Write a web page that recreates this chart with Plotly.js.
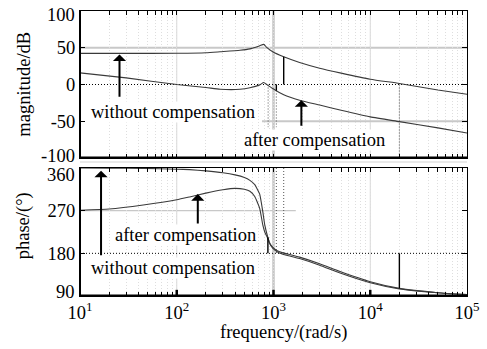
<!DOCTYPE html>
<html><head><meta charset="utf-8">
<script src="https://cdn.plot.ly/plotly-3.0.1.min.js"></script>
<style>html,body{margin:0;padding:0;background:#fff}</style>
</head><body><div id="chart" style="width:487px;height:349px"></div>
<script>
// ---- data ----
const freqMag = [10, 30, 100, 200, 280, 450, 570, 720, 793, 850, 981, 1275, 1860, 3000, 5000, 10000, 20000, 50000, 100000];
const magWithout = [42.3, 42.3, 42.5, 43.2, 44.5, 46.5, 48.5, 52.7, 54.6, 50.5, 44.5, 37.7, 30, 22.2, 15.5, 7.2, 1.4, -7.5, -13.2];
const magAfter = [15.8, 9, 0, -4, -6.4, -6.5, -4.5, -0.5, 2.7, 0, -5.5, -14, -21.4, -28, -35, -44, -50.5, -59, -66];

const freqPhase = [10, 20, 45, 100, 136, 200, 300, 400, 500, 570, 640, 720, 775, 812, 870, 914, 980, 1080, 1250, 1500, 1860, 3000, 4800, 10000, 20000, 50000, 100000];
const phaseWithout = [360, 359.8, 359.3, 357.5, 356.5, 354, 350, 345.5, 340, 334, 325, 305, 268, 240, 215, 202, 193, 186, 181, 177, 172, 158, 142, 120, 106, 97, 93];
const phaseAfter = [271, 273.5, 282, 293, 299, 307, 314, 317, 315, 311, 300, 275, 240, 225, 212, 200, 191, 184, 178, 174, 169, 155, 139, 118, 105, 97, 93];

// marker segments [freq, from, to]
const magMarkWithout = [1275, 0, 37.7];
const magMarkAfter = [1070, 0, -8.3];
const phaseMarkAfter = [875, 180, 214];
const phaseMarkEnd = [20000, 180, 106];

const magTicks = [-100, -50, 0, 50, 100];
const magTickText = ['', '-50', '0', '50', ''];
const phaseTicks = [90, 180, 270, 360];
const phaseTickText = ['', '180', '270', ''];
// end labels (placed slightly inside the frame, as in the reference)
const endLabels = [
  {text: '100', yref: 'y', y: 94.5},
  {text: '-100', yref: 'y', y: -97},
  {text: '360', yref: 'y2', y: 345},
  {text: '90', yref: 'y2', y: 98.4}
];

const labelWithout = 'without compensation';
const labelAfter = 'after compensation';
const titleMag = 'magnitude/dB';
const titlePhase = 'phase/(°)';
const titleFreq = 'frequency/(rad/s)';

// x ticks: every 1..9 x decade, labels only on decades
const xTickVals = [], xTickText = [];
for (let k = 1; k <= 4; k++) for (let m = 1; m <= 9; m++) {
  xTickVals.push(m * Math.pow(10, k));
  xTickText.push(m === 1 ? '10<sup>' + k + '</sup>' : '');
}
xTickVals.push(1e5); xTickText.push('10<sup>5</sup>');

const fam = 'Liberation Serif';
const fontT = {family: fam, size: 18.5, color: '#000'};
const curve = {color: '#3a3a3a', width: 1.1};
const mark = {color: '#000', width: 1.4};

const traces = [
  {x: freqMag, y: magWithout, xaxis: 'x', yaxis: 'y', mode: 'lines', line: Object.assign({shape: 'spline', smoothing: 0.5}, curve)},
  {x: freqMag, y: magAfter, xaxis: 'x', yaxis: 'y', mode: 'lines', line: Object.assign({shape: 'spline', smoothing: 0.5}, curve)},
  {x: freqPhase, y: phaseWithout, xaxis: 'x2', yaxis: 'y2', mode: 'lines', line: Object.assign({shape: 'spline', smoothing: 0.4}, curve)},
  {x: freqPhase, y: phaseAfter, xaxis: 'x2', yaxis: 'y2', mode: 'lines', line: Object.assign({shape: 'spline', smoothing: 0.4}, curve)},
  {x: [magMarkWithout[0], magMarkWithout[0]], y: [magMarkWithout[1], magMarkWithout[2]], xaxis: 'x', yaxis: 'y', mode: 'lines', line: mark},
  {x: [magMarkAfter[0], magMarkAfter[0]], y: [magMarkAfter[1], magMarkAfter[2]], xaxis: 'x', yaxis: 'y', mode: 'lines', line: mark},
  {x: [phaseMarkAfter[0], phaseMarkAfter[0]], y: [phaseMarkAfter[1], phaseMarkAfter[2]], xaxis: 'x2', yaxis: 'y2', mode: 'lines', line: mark},
  {x: [phaseMarkEnd[0], phaseMarkEnd[0]], y: [phaseMarkEnd[1], phaseMarkEnd[2]], xaxis: 'x2', yaxis: 'y2', mode: 'lines', line: mark}
].map(t => Object.assign(t, {hoverinfo: 'skip', showlegend: false}));

const xBase = {
  type: 'log', range: [1, 5], tickmode: 'array', tickvals: xTickVals, ticktext: xTickText,
  ticks: 'inside', ticklen: 4, tickwidth: 1, tickcolor: '#000',
  showline: true, linecolor: '#000', linewidth: 1, mirror: 'ticks',
  showgrid: true, gridcolor: '#dedede', gridwidth: 1, griddash: '1px,2px',
  zeroline: false, tickfont: fontT
};
const yBase = {
  tickmode: 'array', ticks: 'inside', ticklen: 5, tickwidth: 1, tickcolor: '#000',
  showline: true, linecolor: '#000', linewidth: 1, mirror: 'ticks',
  showgrid: false, zeroline: false, tickfont: fontT
};

const dotted = '1px,2px';
const S = [];
function seg(xref, yref, x0, x1, y0, y1, color, width, dash, layer) {
  S.push({type: 'line', layer: layer || 'below', xref: xref, yref: yref, x0: x0, x1: x1, y0: y0, y1: y1,
    line: {color: color, width: width, dash: dash || 'solid'}});
}
// decade grid lines
seg('x', 'y domain', 100, 100, 0, 1, '#d8d8d8', 1);
seg('x', 'y domain', 10000, 10000, 0, 1, '#d8d8d8', 1);
seg('x', 'y domain', 1000, 1000, 0, 1, '#c6c6c6', 2.5);
seg('x2', 'y2 domain', 100, 100, 0, 1, '#d8d8d8', 1);
seg('x2', 'y2 domain', 10000, 10000, 0, 1, '#d8d8d8', 1);
seg('x2', 'y2 domain', 1000, 1000, 0, 1, '#c6c6c6', 2.5);
// magnitude references
seg('x', 'y', 10, 100000, 50, 50, '#c8c8c8', 2);
seg('x', 'y', 10, 100000, 0, 0, '#000', 1, dotted);
seg('x', 'y', 760, 100000, -50, -50, '#c8c8c8', 2);
seg('x', 'y', 20000, 20000, 0, -100, '#333', 1, dotted);
seg('x', 'y', 880, 880, 0, -58, '#555', 1, dotted);
seg('x', 'y', 1070, 1070, 0, -58, '#555', 1, dotted);
// phase references
seg('x2', 'y2', 10, 1700, 270, 270, '#c8c8c8', 1.2);
seg('x2', 'y2', 10, 100000, 180, 180, '#000', 1, dotted);
seg('x2', 'y2', 1070, 1070, 360, 180, '#555', 1, dotted);
seg('x2', 'y2', 1275, 1275, 360, 180, '#555', 1, dotted);
// thick frame parts
seg('x', 'y', 10, 10, -100, 100, '#000', 2, 'solid', 'above');
seg('x', 'y', 10, 100000, -100, -100, '#000', 3, 'solid', 'above');
seg('x2', 'y2', 10, 10, 90, 360, '#000', 2, 'solid', 'above');
seg('x2', 'y2', 10, 100000, 90, 90, '#000', 3, 'solid', 'above');
[100, 1000, 10000].forEach(v => seg('x2', 'y2', v, v, 90, 103, '#000', 2.5, 'solid', 'above'));
S.push({type: 'line', layer: 'above', xref: 'paper', yref: 'paper', x0: 0, x1: 1, y0: 0.470, y1: 0.470, line: {color: '#e2e2e2', width: 1.5}});

const L = Math.log10;
function arrow(xr, yr, f, yTip, yTail) {
  return {xref: xr, yref: yr, axref: xr, ayref: yr, x: L(f), y: yTip, ax: L(f), ay: yTail, text: '',
    showarrow: true, arrowhead: 1, arrowsize: 1.1, arrowwidth: 2, arrowcolor: '#000', standoff: 0};
}
function label(xr, yr, lf, y, txt) {
  return {xref: xr, yref: yr, x: lf, y: y, text: txt, showarrow: false, bgcolor: '#fff', borderpad: 0,
    font: fontT, xanchor: 'center', yanchor: 'middle'};
}
const annotations = [
  arrow('x', 'y', 25.6, 40.9, -18.7),
  arrow('x', 'y', 1941, -21.4, -58),
  arrow('x2', 'y2', 16.5, 354.3, 173),
  arrow('x2', 'y2', 165, 305, 240),
  label('x', 'y', 1.96, -37.8, labelWithout),
  label('x', 'y', 3.425, -76, labelAfter),
  label('x2', 'y2', 2.089, 218.7, labelAfter),
  label('x2', 'y2', 1.96, 149, labelWithout),
  {xref: 'paper', yref: 'paper', x: 0.527, y: -0.1298, text: titleFreq, showarrow: false,
    font: fontT, xanchor: 'center', yanchor: 'middle'},
  {xref: 'paper', yref: 'paper', x: -0.147, y: 0.742, text: titleMag, showarrow: false, textangle: -90,
    font: fontT, xanchor: 'center', yanchor: 'middle'},
  {xref: 'paper', yref: 'paper', x: -0.147, y: 0.245, text: titlePhase, showarrow: false, textangle: -90,
    font: fontT, xanchor: 'center', yanchor: 'middle'}
].concat(endLabels.map(e => ({xref: 'paper', yref: e.yref, x: -0.0078, y: e.y, text: e.text, showarrow: false,
  font: fontT, xanchor: 'right', yanchor: 'middle'})));

const layout = {
  width: 487, height: 349,
  margin: {l: 80, r: 20, t: 11, b: 53},
  paper_bgcolor: '#fff', plot_bgcolor: '#fff',
  font: fontT, showlegend: false,
  xaxis: Object.assign({}, xBase, {anchor: 'y', showticklabels: false}),
  xaxis2: Object.assign({}, xBase, {anchor: 'y2'}),
  yaxis: Object.assign({}, yBase, {domain: [0.4842, 1], range: [-100, 100], tickvals: magTicks, ticktext: magTickText}),
  yaxis2: Object.assign({}, yBase, {domain: [0, 0.4491], range: [90, 360], tickvals: phaseTicks, ticktext: phaseTickText}),
  shapes: S,
  annotations: annotations
};

Plotly.newPlot('chart', traces, layout, {displayModeBar: false, staticPlot: true});
</script>
</body></html>
